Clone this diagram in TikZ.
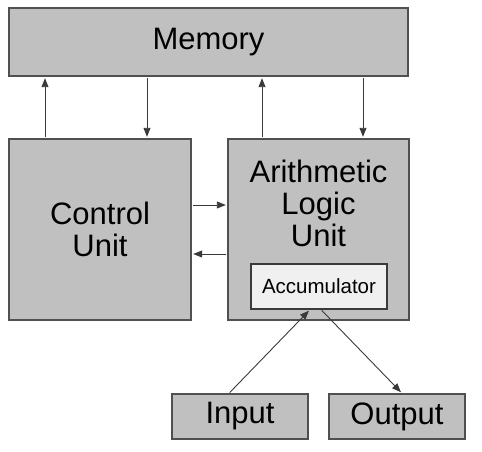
\documentclass[tikz,border=0pt]{standalone}
\usepackage{fontspec}
\setmainfont{Liberation Sans}
\usepackage{xcolor}
\usetikzlibrary{arrows.meta,positioning}
\definecolor{boxgray}{HTML}{C0C0C0}
\definecolor{accgray}{HTML}{F0F0F0}
\definecolor{edgegray}{HTML}{505050}
\definecolor{wiregray}{HTML}{3A3A3A}

\begin{document}
\begin{tikzpicture}[x=1pt,y=-1pt,
	unit/.style={draw=edgegray, line width=1.4pt, fill=boxgray, inner sep=0pt,
		font=\fontsize{31}{32}\selectfont, align=center},
	wire/.style={draw=wiregray, line width=0.9pt, -{Triangle[length=9pt,width=7pt]},
		shorten <=1pt, shorten >=1.5pt}]
	
	\useasboundingbox (0,0) rectangle (482,452);
	\node[unit, minimum width=399pt, minimum height=68pt] (mem) at (208.5,42) {Memory};
	\node[unit, minimum width=182pt, minimum height=181pt] (cu) at (100,229.5) {Control\\Unit};
	\node[unit, minimum width=181pt, minimum height=181pt] (alu) at (318.5,229.5) {};
	\node[font=\fontsize{31}{32}\selectfont, align=center, inner sep=0pt] (alulbl) at (318.5,203) {Arithmetic\\Logic\\Unit};
	\node[unit, fill=accgray, draw=wiregray, line width=1.2pt, minimum width=136pt, minimum height=45pt,
		font=\fontsize{20.5}{22}\selectfont] (acc) at (319,286.5) {Accumulator};
	\node[unit, minimum width=136pt, minimum height=45pt] (in) at (240,416.5) {Input};
	\node[unit, minimum width=136pt, minimum height=45pt] (out) at (397,416.5) {Output};
	
	\draw[wire] ([xshift=-55pt]cu.north) -- ([xshift=-55pt]cu.north |- mem.south);
	\draw[wire] ([xshift=47pt]cu.north |- mem.south) -- ([xshift=47pt]cu.north);
	\draw[wire] ([xshift=-56.5pt]alu.north) -- ([xshift=-56.5pt]alu.north |- mem.south);
	\draw[wire] ([xshift=44.5pt]alu.north |- mem.south) -- ([xshift=44.5pt]alu.north);
	\draw[wire] ([yshift=24.5pt]cu.east) -- ([yshift=24.5pt]cu.east -| alu.west);
	\draw[wire] ([yshift=-24.5pt]alu.west) -- ([yshift=-24.5pt]alu.west -| cu.east);
	\draw[wire] ([xshift=-11pt]in.north) -- ([xshift=-9pt]acc.south);
	\draw[wire] ([xshift=2pt]acc.south) -- ([xshift=5pt]out.north);
\end{tikzpicture}
\end{document}
